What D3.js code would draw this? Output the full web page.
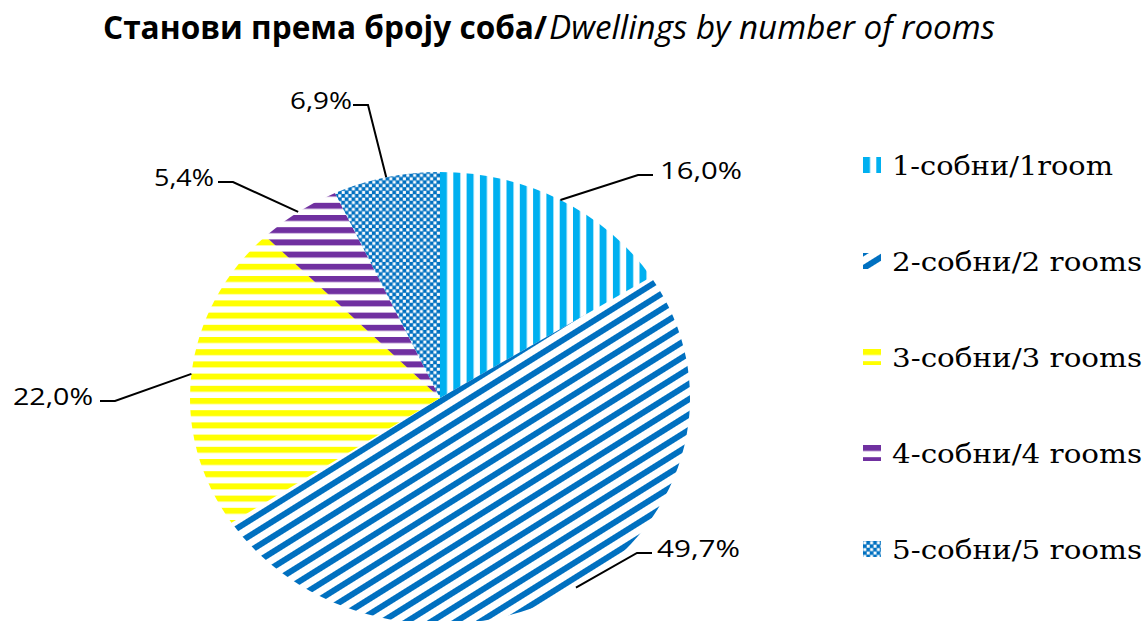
<!DOCTYPE html>
<html>
<head>
<meta charset="utf-8">
<script src="https://cdn.jsdelivr.net/npm/d3@7"></script>
<style>
  body { margin: 0; background: #fff; }
  svg { display: block; }
</style>
</head>
<body>
<div id="chart"></div>
<script>
// data
var categories = ["1-собни/1room", "2-собни/2 rooms", "3-собни/3 rooms", "4-собни/4 rooms", "5-собни/5 rooms"];
var shares = [16.0, 49.7, 22.0, 5.4, 6.9];
var shareLabels = ["16,0%", "49,7%", "22,0%", "5,4%", "6,9%"];

var W = 1147, H = 621;
var cx = 440, cy = 398, rx = 250, ry = 226;
var sx = rx / ry;   // picture is stretched horizontally

var colors = ["#00B0F0", "#0070C0", "#FFFF00", "#7030A0", "#0070C0"];
var kinds = ["vert", "diag", "horiz", "horiz", "check"];

// where the leader lines bend and the labels sit (screen px)
var labelSpots = [
    { ex: 638, ey: 175, tx: 660, side: "right", w: 82 },
    { ex: 637, ey: 553, tx: 657, side: "right", w: 83 },
    { ex: 115, ey: 401, tx: 93,  side: "left",  w: 80 },
    { ex: 233, ey: 182, tx: 214, side: "left",  w: 60 },
    { ex: 368, ey: 105, tx: 352, side: "left",  w: 62 }
];

var svg = d3.select("#chart").append("svg")
    .attr("width", W)
    .attr("height", H);
var defs = svg.append("defs");

// builds a fill pattern; pre = transform to undo the parent's scale
function make_pattern(id, kind, color, ox, oy, pre) {
    var p = defs.append("pattern")
        .attr("id", id)
        .attr("patternUnits", "userSpaceOnUse")
        .attr("x", ox).attr("y", oy);
    if (kind == "vert") {
        p.attr("width", 13.3).attr("height", 10)
         .attr("patternTransform", pre);
        p.append("rect").attr("x", 0).attr("y", 0).attr("width", 7).attr("height", 10).attr("fill", color);
    } else if (kind == "horiz") {
        p.attr("width", 10).attr("height", 12.2)
         .attr("patternTransform", pre);
        p.append("rect").attr("x", 0).attr("y", 0).attr("width", 10).attr("height", 6).attr("fill", color);
    } else if (kind == "diag") {
        p.attr("width", 20).attr("height", 13)
         .attr("patternTransform", (pre ? pre + " " : "") + "rotate(-32)");
        p.append("rect").attr("x", 0).attr("y", 0).attr("width", 20).attr("height", 6).attr("fill", color);
    } else {
        p.attr("width", 6.8).attr("height", 6.8)
         .attr("patternTransform", pre);
        p.append("rect").attr("width", 6.8).attr("height", 6.8).attr("fill", color);
        p.append("rect").attr("x", 0.3).attr("y", 0.3).attr("width", 3).attr("height", 3).attr("fill", "#fff");
        p.append("rect").attr("x", 3.7).attr("y", 3.7).attr("width", 3).attr("height", 3).attr("fill", "#fff");
    }
}

for (var i = 0; i < categories.length; i++)
    make_pattern("pat" + i, kinds[i], colors[i], 0, 0, "scale(" + (1 / sx) + ",1)");

// title
svg.append("text")
    .attr("x", 103).attr("y", 39)
    .attr("textLength", 444).attr("lengthAdjust", "spacingAndGlyphs")
    .style("font-family", "'Open Sans', 'Noto Sans', sans-serif")
    .style("font-weight", "bold")
    .style("font-size", "32px")
    .text("Станови према броју соба/");
svg.append("text")
    .attr("x", 549).attr("y", 39)
    .attr("textLength", 446).attr("lengthAdjust", "spacingAndGlyphs")
    .style("font-family", "'Open Sans', 'Noto Sans', sans-serif")
    .style("font-style", "italic")
    .style("font-size", "32px")
    .text("Dwellings by number of rooms");

// pie
var pie = d3.pie().sort(null).value(function (d) { return d; });
var arcs = pie(shares);
var arc = d3.arc().innerRadius(0).outerRadius(ry);

var pie_g = svg.append("g")
    .attr("transform", "translate(" + cx + "," + cy + ") scale(" + sx + ",1)");
pie_g.selectAll("path")
    .data(arcs)
    .enter().append("path")
    .attr("d", arc)
    .attr("fill", function (d, i) { return "url(#pat" + i + ")"; });

// leader lines + labels
var lab_g = svg.append("g");
arcs.forEach(function (d, i) {
    var a = (d.startAngle + d.endAngle) / 2;
    var x0 = cx + rx * Math.sin(a), y0 = cy - ry * Math.cos(a);
    var s = labelSpots[i];
    var x2 = s.side == "right" ? s.ex + 15 : s.ex - 15;
    lab_g.append("path")
        .attr("d", d3.line()([[x0, y0], [s.ex, s.ey], [x2, s.ey]]))
        .attr("fill", "none")
        .attr("stroke", "#000")
        .attr("stroke-width", 2);
    lab_g.append("text")
        .attr("x", s.tx).attr("y", s.ey + 4)
        .attr("text-anchor", s.side == "right" ? "start" : "end")
        .attr("textLength", s.w).attr("lengthAdjust", "spacingAndGlyphs")
        .style("font-family", "'Open Sans', 'Noto Sans', sans-serif")
        .style("font-size", "24px")
        .text(shareLabels[i]);
});

// legend
var legY = d3.scalePoint().domain(categories).range([165, 549]);
var legWidths = [221, 250, 250, 250, 250];
var leg_g = svg.append("g");
categories.forEach(function (c, i) {
    var y = legY(c);
    make_pattern("leg" + i, kinds[i], colors[i], 863, y - 8, null);
    leg_g.append("rect")
        .attr("x", 863).attr("y", y - 8)
        .attr("width", 18).attr("height", 16)
        .attr("fill", "url(#leg" + i + ")");
    leg_g.append("text")
        .attr("x", 892).attr("y", y + 10)
        .attr("textLength", legWidths[i]).attr("lengthAdjust", "spacingAndGlyphs")
        .style("font-family", "'DejaVu Serif', 'Liberation Serif', serif")
        .style("font-size", "26px")
        .text(c);
});
</script>
</body>
</html>
